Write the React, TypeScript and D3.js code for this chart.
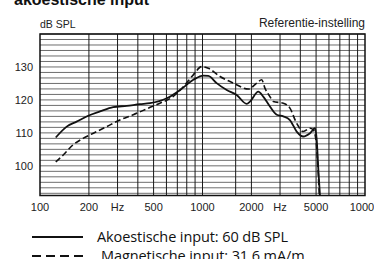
import React from 'react';
import * as d3 from 'd3';

// frequency response (Hz / dB SPL)
const acousticFreq = [125, 146, 168, 198, 234, 282, 342, 412, 475, 603, 727, 878, 1012, 1086, 1222, 1409, 1623, 1871, 1960, 2204, 2365, 2600, 2863, 3142, 3451, 3798, 4170, 4588, 4924, 5046, 5164, 5284];
const acousticDb = [108.6, 111.9, 113.4, 115.2, 116.5, 117.8, 118.2, 118.7, 119, 120.5, 123, 126.1, 127.4, 127.3, 125.1, 123, 121.5, 118.8, 119.5, 122.5, 121, 118, 115.5, 115, 113.9, 110.4, 108.9, 109.9, 111.4, 107.9, 98.8, 91];

const magneticFreq = [125, 139, 160, 185, 213, 257, 310, 375, 464, 547, 658, 762, 878, 988, 1086, 1282, 1549, 1915, 2156, 2313, 2425, 2600, 2726, 3142, 3451, 3798, 4170, 4588, 4808, 4990, 5236];
const magneticDb = [101.2, 103.3, 106.4, 108.4, 109.9, 111.9, 113.9, 115.5, 117.5, 119, 121, 124, 127.6, 130.1, 129.6, 127.1, 125.1, 123.3, 125.1, 126.1, 123.5, 121, 119.5, 119, 117.5, 112.9, 110.4, 111.4, 110.9, 107.9, 91];

const yTicks = [100, 110, 120, 130];
const xTickLabels = [
  { f: 100, label: '100' },
  { f: 200, label: '200' },
  { f: 300, label: 'Hz' },
  { f: 500, label: '500' },
  { f: 1000, label: '1000' },
  { f: 2000, label: '2000' },
  { f: 3000, label: 'Hz' },
  { f: 5000, label: '5000' },
  { f: 10000, label: '10000' },
];
const vGrid = [200, 300, 400, 500, 600, 700, 800, 900, 1000, 1600, 2000, 3000, 4000, 5000, 6000, 7000, 8000, 9000];

const legendItems = [
  { label: 'Akoestische input: 60 dB SPL', dash: '' },
  { label: 'Magnetische input: 31.6 mA/m', dash: '9,5' },
];

const App: React.FC = () => {
  const width = 374;
  const height = 259;
  const left = 40, right = 365, top = 34, bottom = 195.5;

  const x = d3.scaleLog().domain([100, 10000]).range([left, right]);
  const y = d3.scaleLinear().domain([91, 140]).range([bottom, top]);

  const hGrid = d3.range(0, 30).map((i) => 140 - (i * 10) / 6).filter((v) => v > 91.2);

  const line = d3
    .line<[number, number]>()
    .x((d) => x(d[0]))
    .y((d) => y(d[1]))
    .curve(d3.curveMonotoneX);

  const acoustic = acousticFreq.map((f, i) => [f, acousticDb[i]] as [number, number]);
  const magnetic = magneticFreq.map((f, i) => [f, magneticDb[i]] as [number, number]);

  const axisFont = '"Liberation Sans", Arial, sans-serif';

  return (
    <svg width={width} height={height} style={{ position: 'absolute', left: 0, top: 0, background: '#fff' }}>
      <defs>
        <clipPath id="plot">
          <rect x={left} y={top} width={right - left} height={bottom - top} />
        </clipPath>
      </defs>
      <rect width={width} height={height} fill="#fff" />

      <text x={14} y={5} fontFamily={axisFont} fontWeight="bold" fontSize={16} fill="#111">
        akoestische input
      </text>
      <text x={left} y={28} fontFamily={axisFont} fontSize={10.5} fill="#222">
        dB SPL
      </text>
      <text x={right} y={27} textAnchor="end" fontFamily={axisFont} fontSize={12} fill="#222">
        Referentie-instelling
      </text>

      {hGrid.map((v) => (
        <line key={'h' + v} x1={left} x2={right} y1={y(v)} y2={y(v)} stroke="#6e6e6e" strokeWidth={1} />
      ))}
      {vGrid.map((f) => (
        <line key={'v' + f} x1={x(f)} x2={x(f)} y1={top} y2={bottom} stroke="#1a1a1a" strokeWidth={1} />
      ))}
      <rect x={left} y={top} width={right - left} height={bottom - top} fill="none" stroke="#111" strokeWidth={1.5} />

      <g clipPath="url(#plot)" fill="none" stroke="#111">
        <path d={line(acoustic) || ''} strokeWidth={1.8} />
        <path d={line(magnetic) || ''} strokeWidth={1.6} strokeDasharray="6,3" />
      </g>

      {yTicks.map((v) => (
        <text key={'y' + v} x={33} y={y(v)} dy="0.36em" textAnchor="end" fontFamily={axisFont} fontSize={11} fill="#222">
          {v}
        </text>
      ))}
      {xTickLabels.map((t) => (
        <text key={'x' + t.f} x={x(t.f)} y={211} textAnchor="middle" fontFamily={axisFont} fontSize={11} fill="#222">
          {t.label}
        </text>
      ))}

      {legendItems.map((item, i) => (
        <g key={item.label} transform={`translate(0, ${237 + i * 19})`}>
          <line x1={32} x2={83} y1={0} y2={0} stroke="#111" strokeWidth={2} strokeDasharray={item.dash || undefined} />
          <text x={97 + i * 4} y={5} fontFamily='"Open Sans", sans-serif' fontSize={14.5} letterSpacing={-0.1} fill="#111">
            {item.label}
          </text>
        </g>
      ))}
    </svg>
  );
};

export default App;
